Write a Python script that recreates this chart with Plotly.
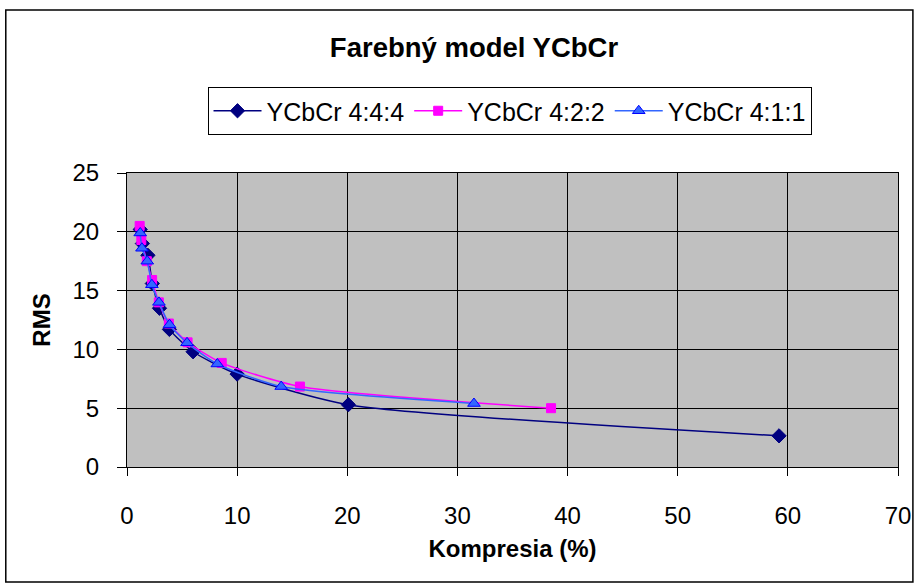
import plotly.graph_objects as go

# Data
x_444 = [1.2, 1.4, 1.9, 2.3, 2.95, 3.85, 6.0, 10.0, 20.1, 59.2]
y_444 = [20.2, 19.0, 18.0, 15.6, 13.5, 11.7, 9.8, 7.9, 5.3, 2.65]

x_422 = [1.15, 1.3, 1.8, 2.28, 2.89, 3.8, 5.5, 8.6, 15.7, 38.5]
y_422 = [20.5, 19.3, 17.5, 15.9, 14.0, 12.2, 10.6, 8.85, 6.84, 5.0]

x_411 = [1.2, 1.36, 1.84, 2.26, 2.9, 3.86, 5.45, 8.2, 14.0, 31.5]
y_411 = [19.9, 18.6, 17.5, 15.5, 14.0, 12.1, 10.56, 8.76, 6.84, 5.4]

names = ["YCbCr 4:4:4", "YCbCr 4:2:2", "YCbCr 4:1:1"]
x_ticks = [0, 10, 20, 30, 40, 50, 60, 70]
y_ticks = [0, 5, 10, 15, 20, 25]

FONT = "Liberation Sans, Arial, sans-serif"
FS = 24

fig = go.Figure()
fig.add_trace(go.Scatter(
    x=x_444, y=y_444, name=names[0], mode="lines+markers",
    line=dict(color="#000080", width=1.5, shape="spline", smoothing=0.6),
    marker=dict(symbol="diamond", size=11, color="#000080",
                line=dict(color="#000080", width=1))))
fig.add_trace(go.Scatter(
    x=x_422, y=y_422, name=names[1], mode="lines+markers",
    line=dict(color="#FF00FF", width=1.5, shape="spline", smoothing=0.6),
    marker=dict(symbol="square", size=9, color="#FF00FF",
                line=dict(color="#FF00FF", width=1))))
fig.add_trace(go.Scatter(
    x=x_411, y=y_411, name=names[2], mode="lines+markers",
    line=dict(color="#3366FF", width=1.5, shape="spline", smoothing=0.6),
    marker=dict(symbol="triangle-up", size=11, color="#3366FF",
                line=dict(color="#0000FF", width=1))))

L, R, T, B = 127, 20, 173, 120
W, H = 923, 587
pw = W - L - R
ph = H - T - B

def px_x(p):
    return (p - L) / pw

def px_y(p):
    return (H - B - p) / ph

fig.update_layout(
    width=W, height=H,
    margin=dict(l=L, r=R, t=T, b=B),
    paper_bgcolor="white",
    plot_bgcolor="#C0C0C0",
    font=dict(family=FONT, size=FS, color="black"),
    title=dict(text="<b>Farebný model YCbCr</b>", x=474 / W, xanchor="center",
               y=1 - 47 / H, yanchor="middle",
               font=dict(family=FONT, size=27.5, color="black")),
    legend=dict(orientation="h", x=px_x(512), xanchor="center",
                y=px_y(87), yanchor="top",
                bordercolor="black", borderwidth=1, bgcolor="white",
                font=dict(family=FONT, size=25, color="black"),
                itemwidth=48, tracegroupgap=0),
    showlegend=True,
    xaxis=dict(range=[0, 70], tickvals=x_ticks, showgrid=True,
               gridcolor="black", gridwidth=1, zeroline=False,
               showline=True, linecolor="black", linewidth=1, mirror=True,
               ticks="outside", ticklen=8, tickcolor="black",
               ticklabelstandoff=19,
               tickfont=dict(family=FONT, size=FS),
               title=dict(text="<b>Kompresia (%)</b>", standoff=12,
                          font=dict(family=FONT, size=FS))),
    yaxis=dict(range=[0, 25], tickvals=y_ticks, showgrid=True,
               gridcolor="black", gridwidth=1, zeroline=False,
               showline=True, linecolor="black", linewidth=1, mirror=True,
               ticks="outside", ticklen=9, tickcolor="black",
               ticklabelstandoff=13,
               tickfont=dict(family=FONT, size=FS),
               title=dict(text="<b>RMS</b>", standoff=15,
                          font=dict(family=FONT, size=FS))),
)

# Outer chart border
fig.add_shape(type="rect", xref="paper", yref="paper",
              x0=px_x(5), x1=px_x(918), y0=px_y(582), y1=px_y(10),
              line=dict(color="black", width=1.5), fillcolor="rgba(0,0,0,0)",
              layer="below")

fig.write_html("out.html")
